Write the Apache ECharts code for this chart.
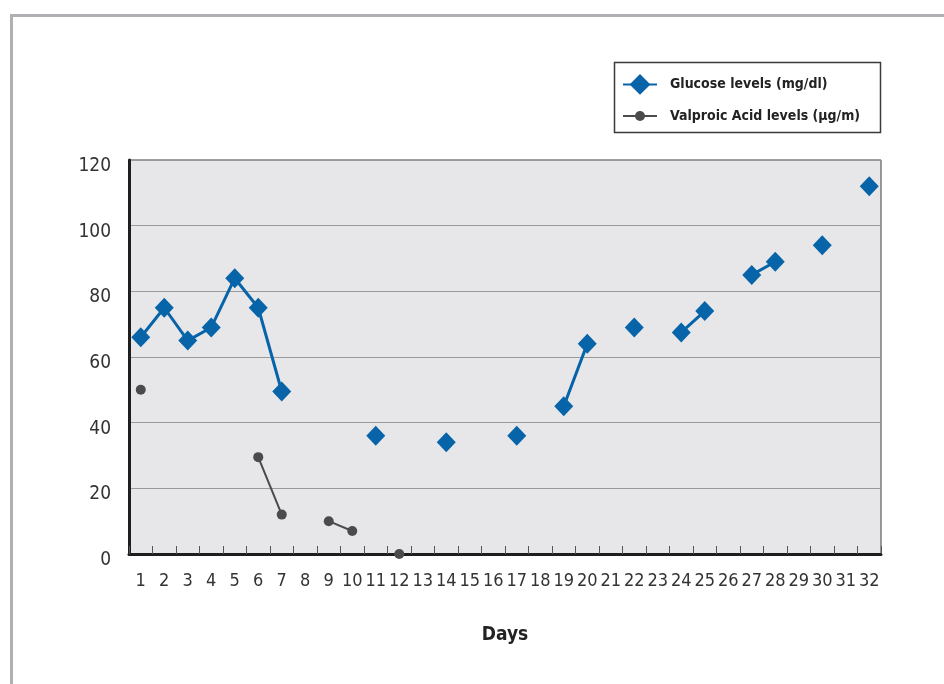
<!DOCTYPE html>
<html>
<head>
<meta charset="utf-8">
<script src="https://cdn.jsdelivr.net/npm/echarts@6/dist/echarts.min.js"></script>
<style>html,body{margin:0;padding:0;background:#fff}#c{width:944px;height:684px}</style>
</head>
<body>
<div id="c"></div>
<script>
const days = ['1','2','3','4','5','6','7','8','9','10','11','12','13','14','15','16','17','18','19','20','21','22','23','24','25','26','27','28','29','30','31','32'];
const glucose = [66,75,65,69,84,75,49.5,null,null,null,36,null,null,34,null,null,36,null,45,64,null,69,null,67.5,74,null,85,89,null,94,null,112];
const valproic = [50,null,null,null,null,29.5,12,null,10,7,null,0,null,null,null,null,null,null,null,null,null,null,null,null,null,null,null,null,null,null,null,null];
const yTicks = [0,20,40,60,80,100,120];
const seriesNames = ['Glucose levels (mg/dl)','Valproic Acid levels (µg/m)'];

const narrow = "'Liberation Sans Narrow','DejaVu Sans Condensed','Roboto Condensed',Roboto,sans-serif";
const blue = '#0764a8';
const grey = '#4b4b4d';

const chart = echarts.init(document.getElementById('c'), null, {renderer:'canvas'});
chart.setOption({
  animation:false,
  backgroundColor:'#fff',
  graphic:[
    {type:'rect', z:-10, shape:{x:11.5,y:15.5,width:1000,height:1000}, style:{fill:'none',stroke:'#b0b0b4',lineWidth:3}},
    {type:'rect', z:0, shape:{x:614.5,y:62.5,width:266,height:70}, style:{fill:'#fff',stroke:'#3a3a3a',lineWidth:1.5}}
  ],
  legend:[
    {data:[seriesNames[0]], left:622, top:74, padding:0, itemWidth:34, itemHeight:26, z:5,
     textStyle:{fontFamily:narrow,fontWeight:'bold',fontSize:14,color:'#222',padding:[0,0,0,8]}},
    {data:[seriesNames[1]], left:622, top:109, padding:0, itemWidth:34, itemHeight:12.5, z:5,
     textStyle:{fontFamily:narrow,fontWeight:'bold',fontSize:14,color:'#222',padding:[0,0,0,8]}}
  ],
  grid:{left:129,top:160,right:63,bottom:130,show:true,backgroundColor:'#e7e7e9',borderColor:'#3c3c3c',borderWidth:1,containLabel:false},
  xAxis:{
    type:'category', data:days, boundaryGap:true,
    name:'Days', nameLocation:'middle', nameGap:72,
    nameTextStyle:{fontFamily:narrow,fontWeight:'bold',fontSize:19,color:'#222'},
    axisLine:{lineStyle:{color:'#1e1e1e',width:3}},
    axisTick:{show:true,inside:true,length:8,interval:0,lineStyle:{color:'#555',width:1}},
    axisLabel:{interval:0,margin:18,fontFamily:narrow,fontSize:18,color:'#333'},
    splitLine:{show:false}
  },
  yAxis:{
    type:'value', min:0, max:120, interval:20,
    axisLine:{show:true,lineStyle:{color:'#1e1e1e',width:3}},
    axisTick:{show:false},
    axisLabel:{margin:18,fontFamily:narrow,fontSize:19,color:'#333',verticalAlign:'top',lineHeight:12,
      formatter:function(v){return yTicks.indexOf(v)>=0?String(v):'';}},
    splitLine:{show:true,lineStyle:{color:'#9a9a9a',width:1.2}}
  },
  series:[
    {name:seriesNames[0], type:'line', data:glucose, connectNulls:false,
     symbol:'diamond', symbolSize:[19,20], showSymbol:true,
     lineStyle:{color:blue,width:3}, itemStyle:{color:blue}, z:4},
    {name:seriesNames[1], type:'line', data:valproic, connectNulls:false,
     symbol:'circle', symbolSize:10, showSymbol:true,
     lineStyle:{color:grey,width:2}, itemStyle:{color:grey}, z:3}
  ]
});
</script>
</body>
</html>
